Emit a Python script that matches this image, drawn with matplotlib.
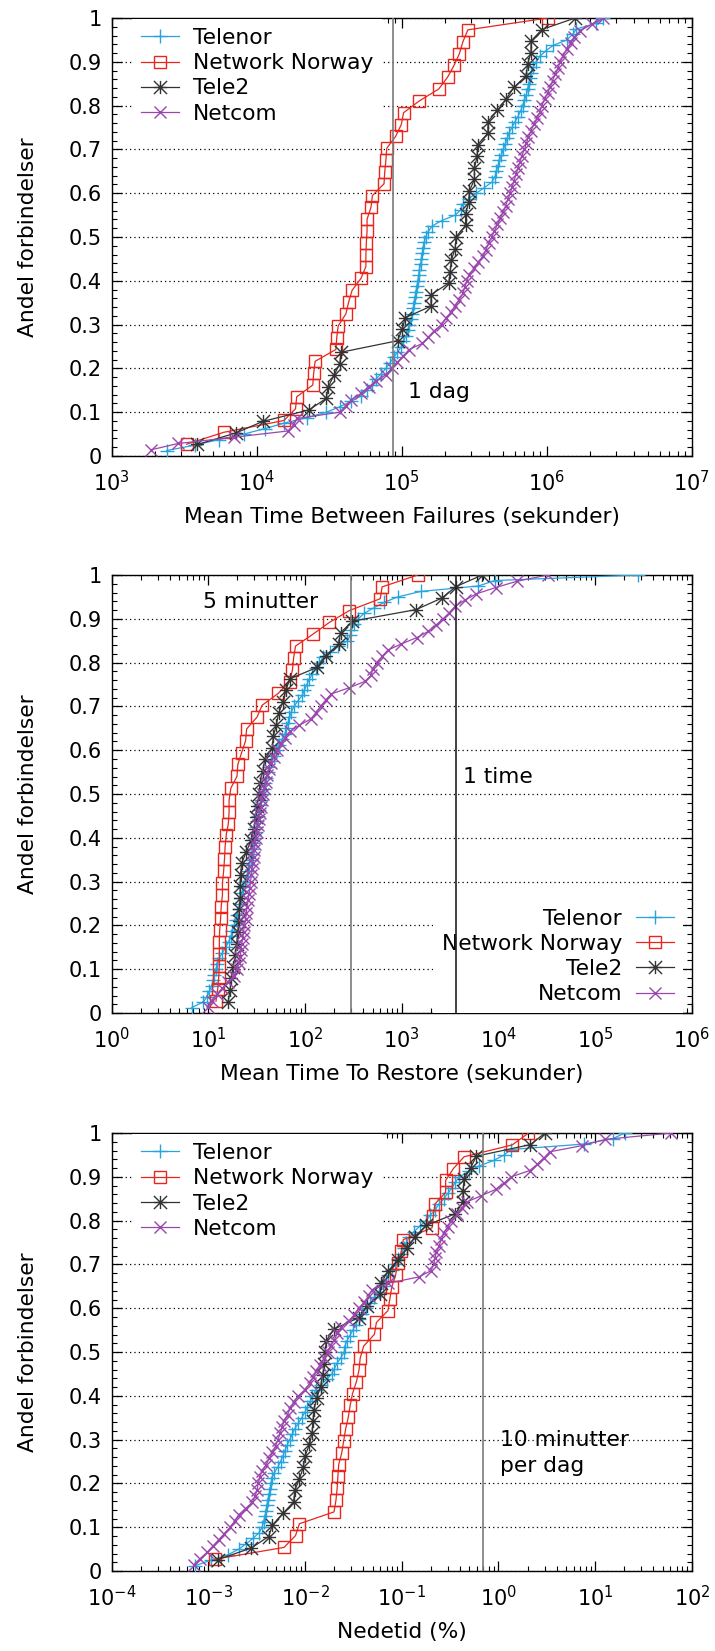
import numpy as np
import matplotlib
matplotlib.use('Agg')
import matplotlib.pyplot as plt
from matplotlib.path import Path
from matplotlib.ticker import LogLocator, MultipleLocator, FuncFormatter, NullFormatter

plt.rcParams['font.family'] = ['DejaVu Sans']
plt.rcParams['mathtext.fontset'] = 'dejavusans'
plt.rcParams['axes.unicode_minus'] = False

operators = ['Telenor', 'Network Norway', 'Tele2', 'Netcom']
y_ticks = [0, 0.1, 0.2, 0.3, 0.4, 0.5, 0.6, 0.7, 0.8, 0.9, 1.0]

# ---------- Panel 1: Mean Time Between Failures (seconds) ----------
mtbf_telenor = [2395, 3784, 5458, 8128, 11380, 15420, 22230, 30200, 37410, 44960,
                52360, 57410, 62120, 66070, 71940, 77840, 82750, 87940, 93470, 99390,
                102500, 107700, 110300, 112300, 115800, 118000, 120200, 121600, 123100, 125400,
                126900, 129200, 130800, 132400, 134800, 136500, 139000, 140800, 143300, 145900,
                152300, 162100, 188800, 233700, 256100, 264100, 289600, 327200, 369800, 417800,
                438700, 449600, 460400, 472000, 486400, 501500, 517100, 533300, 549800, 574000,
                602700, 632700, 660200, 680800, 702100, 723900, 736500, 749900, 763900, 783000,
                807400, 843300, 896300, 982200, 1109000, 1374000, 1507000, 1601000, 2173000, 2455000]
mtbf_nn = [3290, 5920, 15420, 18530, 18880, 24380, 24720, 25290, 35160, 35650,
           36480, 41210, 43050, 45500, 52360, 56620, 56620, 57020, 57680, 57680,
           61380, 62810, 75510, 76380, 77800, 78890, 90780, 99310, 103000, 132400,
           179900, 207000, 229600, 250000, 264200, 285800, 1019000]
mtbf_tele2 = [3908, 7194, 11020, 22960, 30200, 31130, 34120, 37410, 38110, 93540,
              100700, 105700, 159200, 159200, 210800, 215800, 219800, 233700, 236600, 275600,
              275600, 289400, 293100, 317100, 317100, 331000, 333200, 392900, 392900, 457300,
              526400, 595300, 722300, 736500, 778400, 778400, 924700, 1570000]
mtbf_netcom = [1875, 2877, 6966, 16400, 17980, 19100, 37410, 41020, 44960, 52360,
               59150, 66830, 77840, 85310, 93470, 102500, 112300, 139000, 152300, 167000,
               188800, 200600, 219800, 233700, 248500, 264100, 272300, 280800, 293100, 317100,
               337200, 365100, 380900, 397500, 417800, 435800, 457300, 477400, 501500, 520200,
               539700, 559900, 577300, 595300, 613800, 632700, 652400, 672600, 702100, 723900,
               746400, 778400, 817100, 858700, 896300, 924200, 964500, 1012000, 1056000, 1096000,
               1144000, 1194000, 1239000, 1292000, 1374000, 1460000, 1552000, 1702000, 2043000, 2455000]

# ---------- Panel 2: Mean Time To Restore (seconds) ----------
mttr_telenor = [6.72, 8.85, 9.70, 10.25, 10.83, 11.24, 11.54, 11.98, 12.43, 12.89,
                14.0, 15.06, 16.2, 17.1, 17.76, 18.42, 19.29, 19.83, 20.56, 21.14,
                21.73, 22.34, 22.96, 23.82, 24.93, 25.63, 26.58, 27.33, 28.09, 28.6,
                29.13, 29.95, 30.79, 31.36, 31.94, 32.83, 33.44, 34.38, 35.34, 36.62,
                37.3, 38.7, 39.8, 41.3, 42.8, 44.4, 47.3, 50.5, 53.8, 57.9,
                61.8, 64.1, 66.5, 68.9, 72.2, 76.9, 84.3, 93.3, 98.6, 104.1,
                111, 119.4, 130.9, 140.9, 154.5, 182, 218.8, 274.9, 293.3, 301.4,
                324.3, 355.5, 407.7, 512.6, 656.3, 905.2, 1567, 6195, 9192, 277800]
mttr_nn = [12.0, 12.5, 12.8, 13.0, 13.0, 13.0, 13.1, 13.4, 13.6, 14.0,
           14.0, 14.4, 14.7, 14.9, 15.3, 16.1, 16.4, 16.4, 17.1, 19.8,
           20.2, 22.1, 24.3, 24.9, 31.9, 36.0, 52.8, 69.5, 74.2, 76.2,
           79.8, 120.5, 178.6, 287.7, 599.5, 627, 1458]
mttr_tele2 = [16.06, 16.82, 17.13, 18.09, 18.94, 19.65, 20.2, 20.56, 20.95, 21.34,
              21.34, 21.53, 22.13, 24.7, 27.84, 29.67, 30.79, 31.94, 33.44, 34.38,
              36.62, 38.36, 46.05, 46.93, 50.5, 53.33, 58.97, 63.5, 69.55, 134.6,
              163.1, 222.7, 233.1, 309.7, 1405, 2596, 3640, 6792]
mttr_netcom = [9.88, 10.93, 12.31, 14.0, 16.06, 18.42, 19.83, 20.76, 21.34, 21.73,
               22.13, 22.75, 23.17, 23.6, 24.25, 24.7, 25.16, 25.87, 26.35, 26.84,
               27.33, 27.84, 28.36, 28.88, 29.42, 29.96, 30.52, 31.36, 31.94, 32.53,
               33.44, 34.06, 35.0, 35.65, 36.62, 37.64, 39.06, 40.15, 42.04, 44.0,
               47.3, 51.4, 56.9, 61.8, 69.6, 87.5, 115.1, 129.7, 144.8, 163.1,
               187.1, 287.7, 415.3, 485.3, 498.9, 557, 627, 719.5, 991.6, 1431,
               1884, 2263, 2669, 3118, 3575, 4497, 5921, 9357, 15490, 32260]

# ---------- Panel 3: Nedetid (%) ----------
down_telenor = [0.000736, 0.001064, 0.001607, 0.002057, 0.002470, 0.002913, 0.003342, 0.003597, 0.003732, 0.003837,
                0.003945, 0.004018, 0.004131, 0.004247, 0.004356, 0.004436, 0.004560, 0.004819, 0.005236, 0.005585,
                0.005902, 0.006180, 0.006531, 0.006950, 0.007413, 0.007834, 0.008511, 0.009247, 0.009953, 0.01060,
                0.01130, 0.01194, 0.01285, 0.01462, 0.01677, 0.01888, 0.02014, 0.02148, 0.02355, 0.02535,
                0.02579, 0.02700, 0.02904, 0.03124, 0.03332, 0.03586, 0.03930, 0.04266, 0.04721, 0.05224,
                0.05781, 0.06329, 0.06812, 0.07265, 0.07889, 0.08487, 0.09225, 0.09914, 0.1057, 0.1117,
                0.1192, 0.1342, 0.1540, 0.1767, 0.1972, 0.2222, 0.2412, 0.2717, 0.3006, 0.3296,
                0.3581, 0.3921, 0.4933, 0.6314, 0.8933, 1.145, 1.350, 7.705, 15.32, 20.15]
down_nn = [0.001164, 0.006067, 0.00798, 0.00875, 0.01995, 0.0209, 0.0215, 0.02188, 0.0223, 0.0240,
           0.0251, 0.0263, 0.0280, 0.0293, 0.0310, 0.0340, 0.0362, 0.0372, 0.0404, 0.0522,
           0.0547, 0.0720, 0.0754, 0.0789, 0.0865, 0.0905, 0.0991, 0.1038, 0.2064, 0.2122,
           0.2202, 0.2846, 0.2846, 0.3420, 0.4419, 1.390, 2.042]
down_tele2 = [0.001253, 0.00278, 0.00420, 0.00461, 0.00590, 0.00762, 0.00783, 0.00875, 0.00959, 0.01004,
              0.01110, 0.01183, 0.01205, 0.01239, 0.01321, 0.01449, 0.01518, 0.01589, 0.01618, 0.01662,
              0.01995, 0.0362, 0.0435, 0.0599, 0.0611, 0.0720, 0.0905, 0.1138, 0.1366, 0.1799,
              0.3581, 0.4297, 0.4297, 0.4419, 0.5164, 0.5919, 2.138, 3.028]
down_netcom = [0.000705, 0.000823, 0.000970, 0.001113, 0.001277, 0.001466, 0.001682, 0.001877, 0.002057, 0.002426,
               0.002860, 0.003050, 0.003193, 0.003283, 0.003405, 0.003597, 0.003945, 0.004283, 0.004607, 0.004955,
               0.005238, 0.005537, 0.005798, 0.006070, 0.006590, 0.007021, 0.007622, 0.008508, 0.01005, 0.01121,
               0.01216, 0.01309, 0.01435, 0.01588, 0.01708, 0.01837, 0.02014, 0.02167, 0.02354, 0.02827,
               0.03245, 0.03586, 0.04114, 0.04550, 0.04940, 0.07200, 0.1496, 0.2008, 0.2143, 0.2203,
               0.2286, 0.2434, 0.2573, 0.2717, 0.2977, 0.3265, 0.3745, 0.4179, 0.4708, 0.6676,
               0.9357, 1.145, 1.350, 2.097, 2.520, 2.944, 3.376, 7.361, 12.74, 60.55]

# reference lines: 1 dag, 5 minutter, 1 time, 10 minutter per dag (%)
ref_1dag = 86400
ref_5min = 300
ref_1time = 3600
ref_10min_dag = 600 / 86400 * 100

# ---------- styling ----------
colors = ['#27a4dd', '#e8261c', '#333333', '#9b46ad']
star = Path([(-1, 0), (1, 0), (0, -1), (0, 1), (-1, -1), (1, 1), (-1, 1), (1, -1)],
            [Path.MOVETO, Path.LINETO] * 4)
markers = ['+', 's', star, 'x']
msizes = [10, 8.8, 9.5, 9]

FS = 15.7      # labels, legend, annotations
TFS = 15       # tick labels

fig = plt.figure(figsize=(7.15, 16.51), dpi=100)
L, W, H = 0.1561, 0.8115, 0.2653
bottoms = [0.7238, 0.3864, 0.0484]


def setup(ax, xlim, xlabel):
    ax.set_xscale('log')
    ax.set_xlim(*xlim)
    ax.set_ylim(0, 1)
    ax.xaxis.set_major_locator(LogLocator(base=10, numticks=20))
    ax.xaxis.set_minor_locator(LogLocator(base=10, subs=np.arange(2, 10), numticks=20))
    ax.xaxis.set_minor_formatter(NullFormatter())
    ax.set_yticks(y_ticks)
    ax.yaxis.set_major_formatter(FuncFormatter(lambda v, p: '%g' % v))
    ax.yaxis.set_minor_locator(MultipleLocator(0.02))
    ax.tick_params(which='both', direction='in', top=True, right=True, labelsize=TFS)
    ax.tick_params(which='major', length=7, width=0.9)
    ax.tick_params(which='minor', length=3.5, width=0.8)
    ax.tick_params(axis='x', which='major', pad=10)
    ax.tick_params(axis='y', which='major', pad=7)
    ax.yaxis.grid(True, which='major', linestyle=(0, (1, 2.5)), color='black', lw=0.9)
    for s in ax.spines.values():
        s.set_linewidth(1.0)
    ax.set_xlabel(xlabel, fontsize=FS)
    ax.xaxis.set_label_coords(0.5, -0.117)
    ax.set_ylabel('Andel forbindelser', fontsize=FS)
    ax.yaxis.set_label_coords(-0.127, 0.5)


def plot_cdfs(ax, series):
    for vals, lab, c, m, ms in zip(series, operators, colors, markers, msizes):
        v = np.sort(np.asarray(vals, dtype=float))
        y = np.arange(1, len(v) + 1) / len(v)
        ax.plot(v, y, color=c, lw=0.9, marker=m, ms=ms, mew=1.0,
                mfc='none', mec=c, label=lab, zorder=3)


def legend(ax, **kw):
    lg = ax.legend(fontsize=FS, frameon=True, fancybox=False, framealpha=1,
                   edgecolor='none', facecolor='white', handlelength=1.75,
                   handletextpad=0.65, labelspacing=0.24, borderpad=0.4,
                   borderaxespad=0, **kw)
    lg.set_zorder(5)
    return lg


# Panel 1
ax1 = fig.add_axes([L, bottoms[0], W, H])
setup(ax1, (1e3, 1e7), 'Mean Time Between Failures (sekunder)')
plot_cdfs(ax1, [mtbf_telenor, mtbf_nn, mtbf_tele2, mtbf_netcom])
ax1.axvline(ref_1dag, color='#7a7a7a', lw=1.2, zorder=6)
ax1.text(1.1e5, 0.146, '1 dag', fontsize=FS, ha='left', va='center')
legend(ax1, loc='upper left', bbox_to_anchor=(0.035, 0.997))

# Panel 2
ax2 = fig.add_axes([L, bottoms[1], W, H])
setup(ax2, (1, 1e6), 'Mean Time To Restore (sekunder)')
plot_cdfs(ax2, [mttr_telenor, mttr_nn, mttr_tele2, mttr_netcom])
ax2.axvline(ref_5min, color='#7a7a7a', lw=1.2, zorder=6)
ax2.axvline(ref_1time, color='#222222', lw=1.2, zorder=6)
ax2.text(8.8, 0.938, '5 minutter', fontsize=FS, ha='left', va='center')
ax2.text(4300, 0.54, '1 time', fontsize=FS, ha='left', va='center')
legend(ax2, loc='lower right', bbox_to_anchor=(0.985, 0.0), markerfirst=False)

# Panel 3
ax3 = fig.add_axes([L, bottoms[2], W, H])
setup(ax3, (1e-4, 1e2), 'Nedetid (%)')
plot_cdfs(ax3, [down_telenor, down_nn, down_tele2, down_netcom])
ax3.axvline(ref_10min_dag, color='#7a7a7a', lw=1.2, zorder=6)
ax3.text(1.03, 0.30, '10 minutter', fontsize=FS, ha='left', va='center')
ax3.text(1.03, 0.239, 'per dag', fontsize=FS, ha='left', va='center')
legend(ax3, loc='upper left', bbox_to_anchor=(0.035, 0.997))

fig.savefig('out.png', dpi=100)
